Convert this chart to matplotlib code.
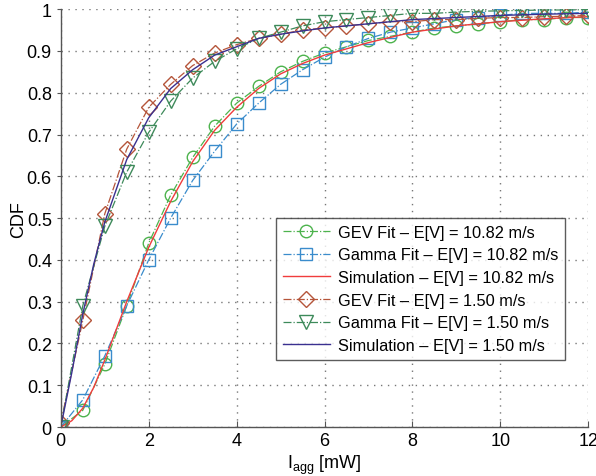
import matplotlib
matplotlib.use("Agg")
import matplotlib.pyplot as plt
import numpy as np

plt.rcParams['font.family'] = ['Liberation Sans', 'DejaVu Sans']

x_fit = [0, 0.5, 1, 1.5, 2, 2.5, 3, 3.5, 4, 4.5, 5, 5.5, 6, 6.5, 7, 7.5, 8, 8.5, 9, 9.5, 10, 10.5, 11, 11.5, 12]
gev_hi = [0, 0.04, 0.15, 0.29, 0.44, 0.555, 0.645, 0.72, 0.775, 0.815, 0.85, 0.875, 0.895, 0.91, 0.925,
          0.935, 0.945, 0.955, 0.96, 0.965, 0.97, 0.975, 0.975, 0.98, 0.98]
gam_hi = [0, 0.065, 0.17, 0.29, 0.40, 0.50, 0.59, 0.66, 0.725, 0.775, 0.82, 0.855, 0.885, 0.91, 0.93,
          0.945, 0.955, 0.965, 0.975, 0.98, 0.985, 0.99, 0.99, 0.99, 0.993]
gev_lo = [0.01, 0.255, 0.51, 0.665, 0.765, 0.82, 0.865, 0.895, 0.915, 0.93, 0.94, 0.95, 0.955, 0.96, 0.965,
          0.97, 0.97, 0.975, 0.975, 0.978, 0.98, 0.98, 0.982, 0.983, 0.985]
gam_lo = [0, 0.29, 0.48, 0.61, 0.705, 0.78, 0.835, 0.875, 0.905, 0.93, 0.945, 0.96, 0.97, 0.975, 0.98,
          0.985, 0.99, 0.99, 0.993, 0.995, 0.996, 0.997, 0.998, 0.998, 0.999]

x_sim = [0, 0.25, 0.5, 0.75, 1, 1.5, 2, 2.5, 3, 3.5, 4, 4.5, 5, 5.5, 6, 7, 8, 9, 10, 11, 12]
sim_hi = [0, 0.015, 0.045, 0.095, 0.16, 0.30, 0.43, 0.54, 0.635, 0.71, 0.765, 0.81, 0.845, 0.87, 0.89,
          0.92, 0.945, 0.96, 0.97, 0.977, 0.982]
sim_lo = [0, 0.13, 0.27, 0.39, 0.49, 0.64, 0.74, 0.81, 0.855, 0.89, 0.91, 0.93, 0.94, 0.948, 0.955,
          0.965, 0.975, 0.98, 0.985, 0.988, 0.99]

labels = ["GEV Fit \u2013 E[V] = 10.82 m/s", "Gamma Fit \u2013 E[V] = 10.82 m/s",
          "Simulation \u2013 E[V] = 10.82 m/s", "GEV Fit \u2013 E[V] = 1.50 m/s",
          "Gamma Fit \u2013 E[V] = 1.50 m/s", "Simulation \u2013 E[V] = 1.50 m/s"]

fig = plt.figure(figsize=(5.96, 4.77), dpi=100)
ax = fig.add_axes([0.102, 0.1027, 0.885, 0.876])

ms = 9
ax.plot(x_fit, gev_hi, linestyle='-.', color='#4db34d', marker='o', mfc='none', ms=ms, lw=0.9, label=labels[0])
ax.plot(x_fit, gam_hi, linestyle='-.', color='#3a8ccc', marker='s', mfc='none', ms=ms, lw=0.9, label=labels[1])
ax.plot(x_sim, sim_hi, linestyle='-', color='#f03c3c', lw=1.0, label=labels[2])
ax.plot(x_fit, gev_lo, linestyle='-.', color='#b5553a', marker='D', mfc='none', ms=ms - 1, lw=0.9, label=labels[3])
ax.plot(x_fit, gam_lo, linestyle='-.', color='#3d8a5a', marker='v', mfc='none', ms=ms + 1, lw=0.9, label=labels[4])
ax.plot(x_sim, sim_lo, linestyle='-', color='#3a3090', lw=1.0, label=labels[5])

ax.set_xlim(0, 12)
ax.set_ylim(0, 1)
ax.set_xticks(range(0, 13, 2))
ax.set_yticks(np.arange(0, 1.01, 0.1))
ax.set_yticklabels(['0', '0.1', '0.2', '0.3', '0.4', '0.5', '0.6', '0.7', '0.8', '0.9', '1'])
ax.tick_params(axis='x', direction='in', labelsize=13, length=4, color='#555555')
ax.tick_params(axis='y', direction='out', labelsize=13, length=3, color='#555555')
ax.grid(True, linestyle=(0, (1, 4)), color='#777777', lw=1.0)
ax.set_xlabel('I$_{\\mathregular{agg}}$ [mW]', fontsize=13, labelpad=3)
ax.set_ylabel('CDF', fontsize=13, labelpad=0)
ax.spines['top'].set_visible(False)
ax.spines['right'].set_visible(False)
for s in ('left', 'bottom'):
    ax.spines[s].set_color('#555555')
    ax.spines[s].set_linewidth(1.0)

leg = ax.legend(loc='upper left', bbox_to_anchor=(0.408, 0.5), fontsize=11.8, frameon=True,
                fancybox=False, edgecolor='#333333', handlelength=2.9, borderpad=0.4,
                labelspacing=0.47, handletextpad=0.5, borderaxespad=0)
leg.get_frame().set_linewidth(1.0)

fig.savefig('out.png', dpi=100)
